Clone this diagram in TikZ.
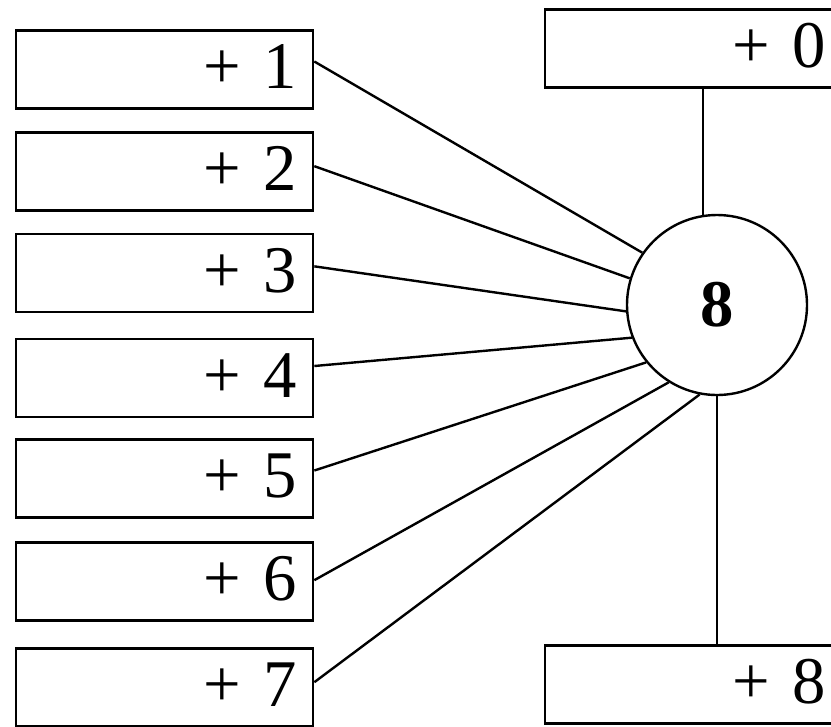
\documentclass[tikz,border=0pt]{standalone}
\usepackage{fontspec}
\setmainfont{Liberation Serif}
\usepackage{tikz}
\usetikzlibrary{calc}

\begin{document}
\begin{tikzpicture}[x=0.75pt,y=0.75pt,yscale=-1,xscale=1,
    every node/.style={font=\fontsize{50}{60}\selectfont},
    slotbox/.style={draw,line width=2pt,rectangle,text width=198.75pt,align=right,
        inner xsep=12pt,inner ysep=0pt,text height=43.5pt,text depth=15pt},
    hubnode/.style={draw,line width=1.8pt,circle,minimum size=135pt,inner sep=0pt,
        font=\fontsize{50}{60}\selectfont\bfseries},
    link/.style={line width=1.8pt}]
            \clip (0,0) rectangle (831,726);
            % Left boxes
            \node [slotbox] (b1) at (164.5,69.5) {+ 1};
            \node [slotbox] (b2) at (164.5,171.5) {+ 2};
            \node [slotbox] (b3) at (164.5,273) {+ 3};
            \node [slotbox] (b4) at (164.5,378) {+ 4};
            \node [slotbox] (b5) at (164.5,478.5) {+ 5};
            \node [slotbox] (b6) at (164.5,581.5) {+ 6};
            \node [slotbox] (b7) at (164.5,687.5) {+ 7};
            % Right boxes
            \node [slotbox] (top) at (693.5,48.5) {+ 0};
            \node [slotbox] (bot) at (693.5,684.5) {+ 8};
            % Circle
            \node [hubnode] (c) at (717,305) {\raisebox{-4pt}{8}};
            %Straight Lines
            \draw [link] ([yshift=-6pt]b1.east) -- (c.145);
            \draw [link] ([yshift=-4pt]b2.east) -- (c.163);
            \draw [link] ([yshift=-5pt]b3.east) -- (c.184);
            \draw [link] ([yshift=-9pt]b4.east) -- (c.201);
            \draw [link] ([yshift=-6pt]b5.east) -- (c.219);
            \draw [link] ([yshift=-1pt]b6.east) -- (c.238);
            \draw [link] ([yshift=-4pt]b7.east) -- (c.259);
            %Vertical lines
            \draw [link] (c.99) -- (c.99 |- top.south);
            \draw [link] (c.south) -- (c.south |- bot.north);
\end{tikzpicture}
\end{document}
